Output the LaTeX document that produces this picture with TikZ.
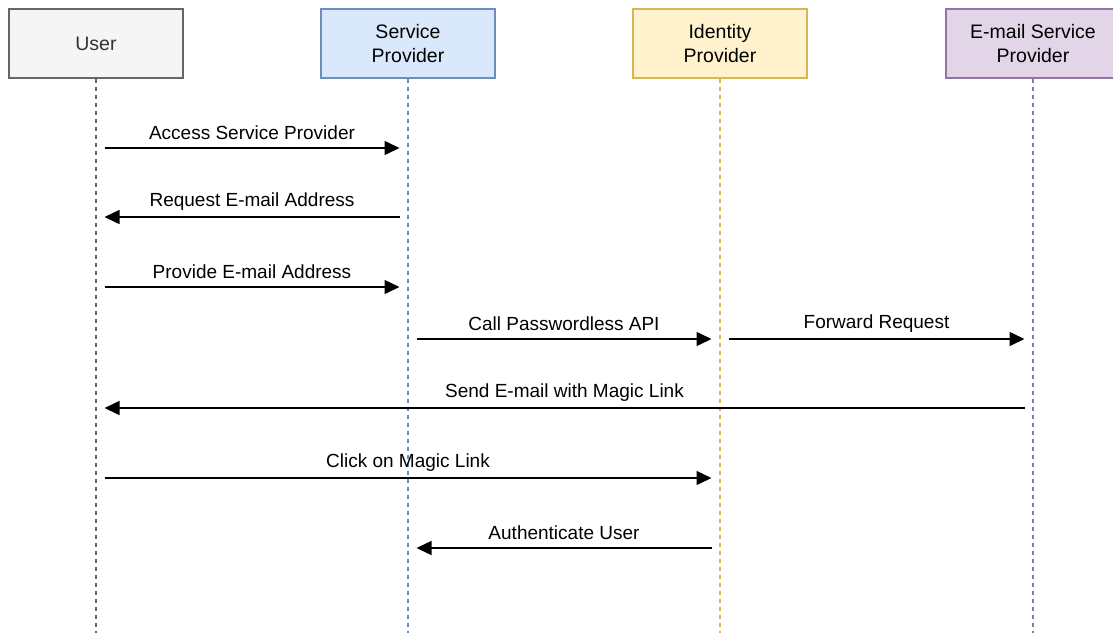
\documentclass[tikz,border=0pt]{standalone}
\usepackage{fontspec}
\setmainfont{Liberation Sans}
\usetikzlibrary{arrows.meta}
\definecolor{userfill}{HTML}{F5F5F5}\definecolor{userdraw}{HTML}{666666}
\definecolor{usertext}{HTML}{333333}
\definecolor{spfill}{HTML}{DAE8FC}\definecolor{spdraw}{HTML}{6C8EBF}
\definecolor{idpfill}{HTML}{FFF2CC}\definecolor{idpdraw}{HTML}{D6B656}
\definecolor{emfill}{HTML}{E1D5E7}\definecolor{emdraw}{HTML}{9673A6}
\tikzset{
  actor/.style={draw, line width=1.3pt, minimum width=174pt, minimum height=69pt, inner sep=0pt,
    align=center, font=\fontsize{19.5}{24}\selectfont},
  lifeline/.style={line width=1.3pt, dash pattern=on 4pt off 4pt},
  msg/.style={line width=1.5pt, -{Triangle[length=15pt,width=14pt]}, shorten >=8.5pt, shorten <=8.5pt},
  lbl/.style={midway, yshift=15pt, font=\fontsize{19}{22}\selectfont, inner sep=0pt}
}
\begin{document}
\begin{tikzpicture}[x=1pt,y=-1pt]
\useasboundingbox (0,0) rectangle (1113,633);
% actors
\node[actor, fill=userfill, draw=userdraw, text=usertext] (user) at (96,43.5) {User};
\node[actor, fill=spfill, draw=spdraw] (sp) at (408,43.5) {Service\\Provider};
\node[actor, fill=idpfill, draw=idpdraw] (idp) at (720,43.5) {Identity\\Provider};
\node[actor, fill=emfill, draw=emdraw] (em) at (1033,43.5) {E-mail Service\\Provider};
% lifeline ends
\coordinate (userE) at (96,633);
\coordinate (spE) at (408,633);
\coordinate (idpE) at (720,633);
\coordinate (emE) at (1033,633);
\draw[lifeline, userdraw] (user.south) -- (userE);
\draw[lifeline, spdraw] (sp.south) -- (spE);
\draw[lifeline, idpdraw] (idp.south) -- (idpE);
\draw[lifeline, emdraw] (em.south) -- (emE);
% message points
\foreach \n/\y in {1/148,2/217,3/287,4/339,5/408,6/478,7/548}{
  \coordinate (u\n) at (96,\y);
  \coordinate (s\n) at (408,\y);
  \coordinate (i\n) at (720,\y);
  \coordinate (e\n) at (1033,\y);
}
\draw[msg] (u1) -- node[lbl] (l1) {Access Service Provider} (s1);
\draw[msg] (s2) -- node[lbl] (l2) {Request E-mail Address} (u2);
\draw[msg] (u3) -- node[lbl] (l3) {Provide E-mail Address} (s3);
\draw[msg] (s4) -- node[lbl] (l4) {Call Passwordless API} (i4);
\draw[msg] (i4) -- node[lbl] (l5) {Forward Request} (e4);
\draw[msg] (e5) -- node[lbl] (l6) {Send E-mail with Magic Link} (u5);
\draw[msg] (u6) -- node[lbl] (l7) {Click on Magic Link} (i6);
\draw[msg] (i7) -- node[lbl] (l8) {Authenticate User} (s7);
\end{tikzpicture}
\end{document}
